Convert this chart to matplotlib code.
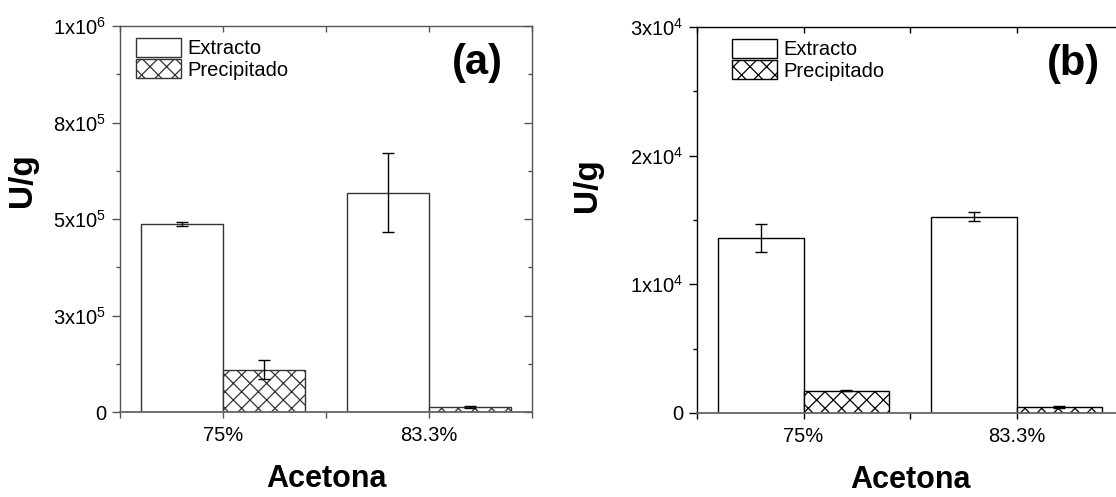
import matplotlib
matplotlib.use("Agg")
import matplotlib.pyplot as plt
import numpy as np
from matplotlib.ticker import FixedLocator, MultipleLocator

plt.rcParams['font.family'] = ['Liberation Sans', 'DejaVu Sans']
plt.rcParams['mathtext.fontset'] = 'custom'
plt.rcParams['mathtext.rm'] = 'Liberation Sans'
plt.rcParams['hatch.linewidth'] = 0.9

categories = ['75%', '83.3%']
series = ['Extracto', 'Precipitado']

# panel (a)
a_extracto = [4.87e5, 5.68e5]
a_extracto_err = [6e3, 1.02e5]
a_precip = [1.10e5, 1.3e4]
a_precip_err = [2.5e4, 1.5e3]
a_yticks = [0, 2.5e5, 5e5, 7.5e5, 1e6]
a_yticklabels = ['0', r'$\mathregular{3x10^{5}}$', r'$\mathregular{5x10^{5}}$',
                 r'$\mathregular{8x10^{5}}$', r'$\mathregular{1x10^{6}}$']

# panel (b)
b_extracto = [1.36e4, 1.525e4]
b_extracto_err = [1.08e3, 3.5e2]
b_precip = [1.74e3, 4.4e2]
b_precip_err = [30, 80]
b_yticks = [0, 1e4, 2e4, 3e4]
b_yticklabels = ['0', r'$\mathregular{1x10^{4}}$', r'$\mathregular{2x10^{4}}$',
                 r'$\mathregular{3x10^{4}}$']

W, H = 1116, 497
fig = plt.figure(figsize=(W / 100, H / 100), dpi=100)


def px_axes(l, t, r, b):
    return fig.add_axes([l / W, 1 - b / H, (r - l) / W, (b - t) / H])


FS = 14.5


def panel(ax, ext, ext_err, pre, pre_err, yticks, yticklabels, ymax, minor,
          tag, tagx, legx, spine_col, bottom_col, edge_col, ylcoords, right_ticks):
    x = np.arange(1, len(categories) + 1)
    w = 0.4
    ax.bar(x, ext, width=-w, align='edge', facecolor='white',
           edgecolor=edge_col, linewidth=1.0, label=series[0], zorder=2)
    ax.bar(x, pre, width=w, align='edge', facecolor='white',
           edgecolor=edge_col, linewidth=1.0, hatch='xx', label=series[1], zorder=2)
    ax.errorbar(x - w / 2, ext, yerr=ext_err, fmt='none', ecolor='black',
                elinewidth=1.0, capsize=4, capthick=1.0, zorder=3)
    ax.errorbar(x + w / 2, pre, yerr=pre_err, fmt='none', ecolor='black',
                elinewidth=1.0, capsize=4, capthick=1.0, zorder=3)
    ax.set_xlim(0.5, 2.5)
    ax.set_ylim(0, ymax)
    ax.set_xticks(x)
    ax.set_xticklabels(categories, fontsize=FS)
    ax.xaxis.set_minor_locator(FixedLocator([0.5, 1.5, 2.5]))
    ax.set_yticks(yticks)
    ax.set_yticklabels(yticklabels, fontsize=FS)
    ax.yaxis.set_minor_locator(MultipleLocator(minor))
    ax.tick_params(axis='y', which='major', direction='out', length=6,
                   width=1, color=spine_col, pad=4, right=right_ticks)
    ax.tick_params(axis='y', which='minor', direction='out', length=3,
                   width=1, color=spine_col, right=right_ticks)
    ax.tick_params(axis='x', which='both', direction='out', length=4,
                   width=1, color=spine_col, pad=6, top=True)
    # inward ticks on the mirrored sides
    for t in ax.yaxis.get_major_ticks() + ax.yaxis.get_minor_ticks():
        t.tick2line.set_marker(matplotlib.lines.TICKLEFT)
    for t in ax.xaxis.get_major_ticks() + ax.xaxis.get_minor_ticks():
        t.tick2line.set_marker(matplotlib.lines.TICKDOWN)
    for s in ['left', 'right', 'top']:
        ax.spines[s].set_color(spine_col)
        ax.spines[s].set_linewidth(1.0)
    ax.spines['bottom'].set_color(bottom_col)
    ax.spines['bottom'].set_linewidth(1.3)
    ax.set_xlabel('Acetona', fontsize=22, fontweight='bold', labelpad=14)
    ax.set_ylabel('U/g', fontsize=24, fontweight='bold')
    ax.yaxis.set_label_coords(*ylcoords)
    ax.text(tagx, 0.905, tag, transform=ax.transAxes, fontsize=30,
            fontweight='bold', ha='center', va='center')
    ax.legend(loc='upper left', bbox_to_anchor=(legx, 0.97), frameon=False,
              fontsize=FS, handlelength=2.25, handleheight=1.1,
              handletextpad=0.3, labelspacing=0.05, borderpad=0,
              borderaxespad=0)


ax1 = px_axes(120, 26, 532, 412)
panel(ax1, a_extracto, a_extracto_err, a_precip, a_precip_err,
      a_yticks, a_yticklabels, 1e6, 1.25e5, '(a)', 0.867, 0.039,
      '#555555', '#666666', '#333333', (-0.199, 0.60), True)

ax2 = px_axes(697, 27, 1123, 413)
panel(ax2, b_extracto, b_extracto_err, b_precip, b_precip_err,
      b_yticks, b_yticklabels, 3e4, 5e3, '(b)', 0.883, 0.082,
      'black', '#666666', 'black', (-0.221, 0.59), False)

fig.savefig('out.png', dpi=100)
